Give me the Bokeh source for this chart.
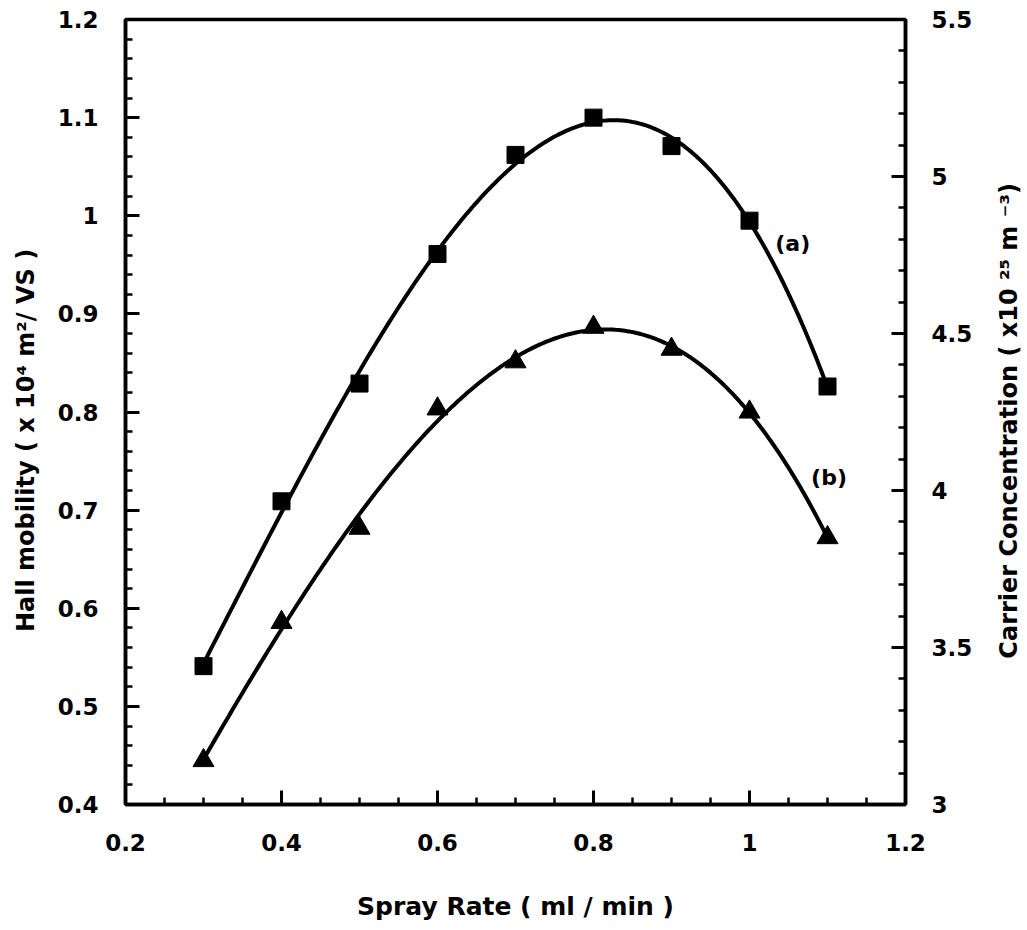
import numpy as np
from bokeh.plotting import figure
from bokeh.layouts import row
from bokeh.models import (Range1d, LinearAxis, FixedTicker, NumeralTickFormatter, Label)
from bokeh.embed import file_html
from bokeh.resources import INLINE

# ---- data ----
spray_rate = [0.3, 0.4, 0.5, 0.6, 0.7, 0.8, 0.9, 1.0, 1.1]
hall_mobility_a = [0.541, 0.709, 0.829, 0.961, 1.062, 1.100, 1.071, 0.995, 0.826]
carrier_conc_b = [3.14, 3.58, 3.88, 4.26, 4.41, 4.52, 4.45, 4.25, 3.85]

x_ticks = [0.2, 0.4, 0.6, 0.8, 1.0, 1.2]
left_ticks = [0.4, 0.5, 0.6, 0.7, 0.8, 0.9, 1.0, 1.1, 1.2]
right_ticks = [3.0, 3.5, 4.0, 4.5, 5.0, 5.5]

x_label = "Spray Rate ( ml / min )"
left_label = "Hall mobility ( x 10\u2074 m\u00b2/ VS )"
right_label = "Carrier Concentration ( x10 \u00b2\u2075 m \u207b\u00b3)"
series_labels = ["(a)", "(b)"]

FONT = "DejaVu Sans"
H = 925


def minors(ticks, n):
    out = []
    for a, b in zip(ticks[:-1], ticks[1:]):
        out += [round(a + (b - a) * k / n, 6) for k in range(1, n)]
    return out


p = figure(width=950, height=H, output_backend="svg", toolbar_location=None,
           x_range=Range1d(x_ticks[0], x_ticks[-1]), y_range=Range1d(left_ticks[0], left_ticks[-1]),
           min_border_left=85, min_border_right=85, min_border_top=19, min_border_bottom=121,
           x_axis_location=None, y_axis_location=None)
p.extra_y_ranges = {"cc": Range1d(right_ticks[0], right_ticks[-1])}
p.grid.visible = False
p.outline_line_color = "black"
p.outline_line_width = 3.5
p.background_fill_color = "white"
p.border_fill_color = "white"


def style_axis(ax, label_standoff, tick_standoff):
    ax.axis_line_width = 3.5
    ax.axis_line_color = "black"
    ax.major_tick_in = 14
    ax.major_tick_out = 0
    ax.minor_tick_in = 7
    ax.minor_tick_out = 0
    ax.major_tick_line_width = 3
    ax.minor_tick_line_width = 2.5
    ax.major_label_text_font = FONT
    ax.major_label_text_font_style = "bold"
    ax.major_label_text_font_size = "23px"
    ax.major_label_text_color = "black"
    ax.major_label_standoff = tick_standoff
    ax.axis_label_text_font = FONT
    ax.axis_label_text_font_style = "bold"
    ax.axis_label_text_font_size = "25px"
    ax.axis_label_text_color = "black"
    ax.axis_label_standoff = label_standoff
    ax.formatter = NumeralTickFormatter(format="0.[0]")


xax = LinearAxis(ticker=FixedTicker(ticks=x_ticks, minor_ticks=minors(x_ticks, 4)), axis_label=x_label)
style_axis(xax, 38, 29)
p.add_layout(xax, "below")

yax = LinearAxis(ticker=FixedTicker(ticks=left_ticks, minor_ticks=minors(left_ticks, 5)))
style_axis(yax, 21, 27)
p.add_layout(yax, "left")

rax = LinearAxis(y_range_name="cc", ticker=FixedTicker(ticks=right_ticks, minor_ticks=minors(right_ticks, 5)))
style_axis(rax, 24, 26)
p.add_layout(rax, "right")

# fitted smooth curves (cubic least squares through the measured points)
xs = np.array(spray_rate)
xf = np.linspace(xs.min(), xs.max(), 300)
fa = np.polyval(np.polyfit(xs, hall_mobility_a, 3), xf)
fb = np.polyval(np.polyfit(xs, carrier_conc_b, 3), xf)

p.line(xf, fa, line_color="black", line_width=4)
p.line(xf, fb, line_color="black", line_width=4, y_range_name="cc")

p.scatter(spray_rate, hall_mobility_a, marker="square", size=17, fill_color="black", line_color="black")
p.scatter(spray_rate, carrier_conc_b, marker="triangle", size=21, fill_color="black", line_color="black",
          y_range_name="cc")

la = Label(x=spray_rate[-2] + 0.033, y=hall_mobility_a[-2] - 0.023, text=series_labels[0],
           text_font=FONT, text_font_size="22px", text_font_style="bold", text_color="black",
           text_baseline="middle")
lb = Label(x=spray_rate[-2] + 0.079, y=carrier_conc_b[-2] - 0.21, text=series_labels[1],
           text_font=FONT, text_font_size="22px", text_font_style="bold", text_color="black",
           text_baseline="middle", y_range_name="cc")
p.add_layout(la)
p.add_layout(lb)


def title_strip(width, text, cx, cy, size):
    f = figure(width=width, height=H, output_backend="svg", toolbar_location=None,
               x_range=Range1d(0, width), y_range=Range1d(H, 0), min_border=0,
               x_axis_location=None, y_axis_location=None)
    f.grid.visible = False
    f.outline_line_color = None
    f.background_fill_color = "white"
    f.border_fill_color = "white"
    f.add_layout(Label(x=cx, y=cy, text=text, angle=np.pi / 2, text_font=FONT,
                       text_font_size=size, text_font_style="bold", text_color="black",
                       text_align="center", text_baseline="middle"))
    return f


left_strip = title_strip(40, left_label, 25, 496, "24px")
right_strip = title_strip(37, right_label, 18, 473, "24px")

layout = row(left_strip, p, right_strip, spacing=0)
open("out.html", "w").write(file_html(layout, INLINE))
